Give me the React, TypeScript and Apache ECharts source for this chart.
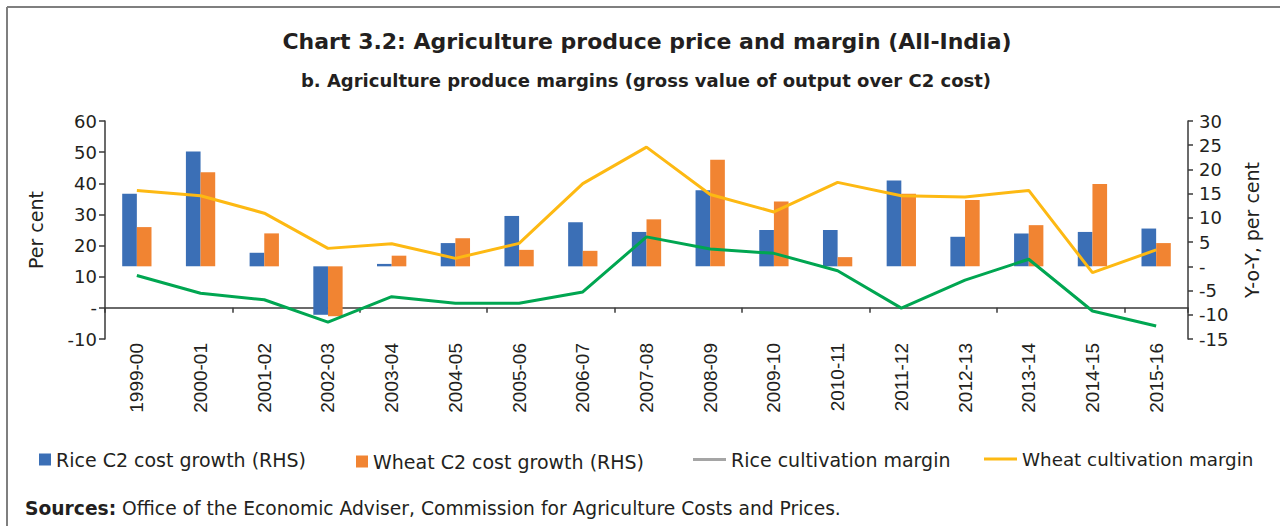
import React, { useEffect, useRef } from "react";
import * as echarts from "echarts";

const categories = [
  "1999-00", "2000-01", "2001-02", "2002-03", "2003-04", "2004-05", "2005-06", "2006-07", "2007-08",
  "2008-09", "2009-10", "2010-11", "2011-12", "2012-13", "2013-14", "2014-15", "2015-16",
];
// RHS (Y-o-Y, per cent)
const riceCostGrowth = [15.0, 23.7, 2.8, -10.0, 0.5, 4.8, 10.4, 9.1, 7.1, 15.7, 7.5, 7.5, 17.7, 6.1, 6.8, 7.1, 7.8];
const wheatCostGrowth = [8.1, 19.4, 6.8, -10.3, 2.2, 5.8, 3.4, 3.2, 9.7, 22.0, 13.4, 1.9, 15.0, 13.7, 8.5, 17.0, 4.8];
// LHS (Per cent)
const riceMargin = [10.4, 4.7, 2.6, -4.6, 3.6, 1.5, 1.5, 5.1, 22.8, 18.9, 17.5, 11.9, -0.1, 8.9, 15.6, -1.0, -5.8];
const wheatMargin = [37.7, 36.0, 30.4, 19.1, 20.6, 15.9, 20.7, 39.9, 51.6, 36.4, 30.8, 40.3, 36.0, 35.6, 37.7, 11.3, 18.6];

const seriesNames = [
  "Rice C2 cost growth (RHS)",
  "Wheat C2 cost growth (RHS)",
  "Rice cultivation margin",
  "Wheat cultivation margin",
];

const FONT = "DejaVu Sans";
const TXT = "#231f20";
const AXIS = "#3a3a3a";
const BLUE = "#3b6fb6";
const ORANGE = "#f18432";
const GREEN = "#00a651";
const YELLOW = "#fdb913";
const GRAY = "#a5a5a5";

export default function App() {
  const ref = useRef<HTMLDivElement>(null);
  useEffect(() => {
    if (!ref.current) return;
    const chart = echarts.init(ref.current, undefined, { renderer: "svg" });
    const zeroDash = (v: number) => (v === 0 ? "-" : String(v));
    const legendText = { fontFamily: FONT, fontSize: 19, color: TXT };
    chart.setOption({
      animation: false,
      textStyle: { fontFamily: FONT },
      grid: { left: 105, right: 92, top: 121, bottom: 187, containLabel: false },
      xAxis: [
        {
          type: "category",
          data: categories,
          boundaryGap: true,
          axisLine: { onZero: true, onZeroAxisIndex: 0, lineStyle: { color: AXIS, width: 1.5 } },
          axisTick: { show: true, length: 5, lineStyle: { color: AXIS, width: 1.5 } },
          axisLabel: { show: false },
          splitLine: { show: false },
        },
        {
          type: "category",
          data: categories,
          position: "bottom",
          boundaryGap: true,
          axisLine: { show: false, onZero: false },
          axisTick: { show: false },
          axisLabel: { rotate: 90, margin: 4, fontSize: 19, fontFamily: "Liberation Sans", color: TXT },
          splitLine: { show: false },
        },
      ],
      yAxis: [
        {
          type: "value",
          position: "left",
          min: -10,
          max: 60,
          interval: 10,
          name: "Per cent",
          nameLocation: "middle",
          nameRotate: 90,
          nameGap: 60,
          nameTextStyle: { fontFamily: FONT, fontSize: 19, color: TXT },
          axisLine: { show: true, lineStyle: { color: AXIS, width: 1.5 } },
          axisTick: { show: true, length: 6, lineStyle: { color: AXIS, width: 1.5 } },
          axisLabel: { formatter: zeroDash, fontSize: 18, margin: 8, color: TXT, fontFamily: FONT },
          splitLine: { show: false },
        },
        {
          type: "value",
          position: "right",
          min: -15,
          max: 30,
          interval: 5,
          name: "Y-o-Y, per cent",
          nameLocation: "middle",
          nameRotate: 90,
          nameGap: 54,
          nameTextStyle: { fontFamily: FONT, fontSize: 19, color: TXT },
          axisLine: { show: true, lineStyle: { color: AXIS, width: 1.5 } },
          axisTick: { show: true, length: 5, lineStyle: { color: AXIS, width: 1.5 } },
          axisLabel: { formatter: zeroDash, fontSize: 18, margin: 11, color: TXT, fontFamily: FONT },
          splitLine: { show: false },
        },
      ],
      legend: [
        {
          top: 450, left: 39, padding: 0, itemWidth: 12, itemHeight: 12, icon: "rect",
          textStyle: legendText, data: [seriesNames[0]],
        },
        {
          top: 452, left: 356, padding: 0, itemWidth: 12, itemHeight: 12, icon: "rect",
          textStyle: legendText, data: [seriesNames[1]],
        },
        {
          top: 450, left: 693, padding: 0, itemWidth: 33, itemHeight: 3, icon: "rect",
          textStyle: legendText,
          data: [{ name: seriesNames[2], itemStyle: { color: GRAY } }],
        },
        {
          top: 450, left: 984, padding: 0, itemWidth: 33, itemHeight: 3, icon: "rect",
          textStyle: { ...legendText, fontSize: 18.3 },
          data: [{ name: seriesNames[3], itemStyle: { color: YELLOW } }],
        },
      ],
      series: [
        {
          name: seriesNames[0],
          type: "bar",
          xAxisIndex: 0,
          yAxisIndex: 1,
          data: riceCostGrowth,
          barGap: "0%",
          barCategoryGap: "54%",
          itemStyle: { color: BLUE },
        },
        {
          name: seriesNames[1],
          type: "bar",
          xAxisIndex: 0,
          yAxisIndex: 1,
          data: wheatCostGrowth,
          barGap: "0%",
          barCategoryGap: "54%",
          itemStyle: { color: ORANGE },
        },
        {
          name: seriesNames[2],
          type: "line",
          xAxisIndex: 0,
          yAxisIndex: 0,
          data: riceMargin,
          symbol: "none",
          lineStyle: { color: GREEN, width: 3 },
          itemStyle: { color: GREEN },
        },
        {
          name: seriesNames[3],
          type: "line",
          xAxisIndex: 0,
          yAxisIndex: 0,
          data: wheatMargin,
          symbol: "none",
          lineStyle: { color: YELLOW, width: 3 },
          itemStyle: { color: YELLOW },
        },
      ],
      graphic: [
        {
          type: "line",
          shape: { x1: 7, y1: 7, x2: 1280, y2: 7 },
          style: { stroke: "#7f7f7f", lineWidth: 2 },
        },
        {
          type: "line",
          shape: { x1: 7, y1: 7, x2: 7, y2: 526 },
          style: { stroke: "#7f7f7f", lineWidth: 2 },
        },
        {
          type: "text",
          x: 647,
          y: 41,
          style: {
            text: "Chart 3.2: Agriculture produce price and margin (All-India)",
            fontFamily: FONT,
            fontWeight: "bold",
            fontSize: 22,
            fill: TXT,
            align: "center",
            verticalAlign: "middle",
          },
        },
        {
          type: "text",
          x: 646,
          y: 80,
          style: {
            text: "b. Agriculture produce margins (gross value of output over C2 cost)",
            fontFamily: FONT,
            fontWeight: "bold",
            fontSize: 18,
            fill: TXT,
            align: "center",
            verticalAlign: "middle",
          },
        },
        {
          type: "text",
          x: 25,
          y: 508,
          style: {
            text: "{b|Sources:} Office of the Economic Adviser, Commission for Agriculture Costs and Prices.",
            fontFamily: FONT,
            fontSize: 18.7,
            fill: TXT,
            align: "left",
            verticalAlign: "middle",
            rich: {
              b: { fontFamily: FONT, fontSize: 18.7, fontWeight: "bold", fill: TXT },
            },
          },
        },
      ],
    });
    return () => chart.dispose();
  }, []);
  return (
    <div
      ref={ref}
      style={{ position: "fixed", left: 0, top: 0, width: 1280, height: 526, background: "#ffffff" }}
    />
  );
}
